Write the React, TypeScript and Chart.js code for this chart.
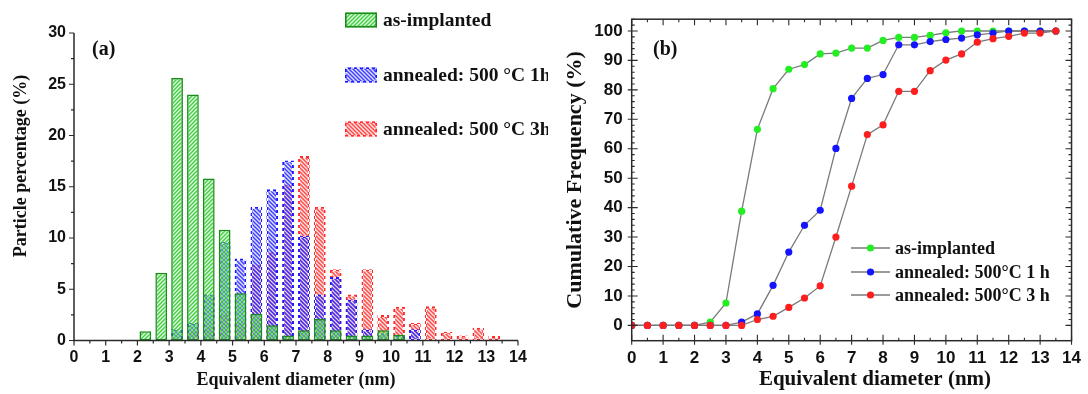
import React, { useEffect, useRef } from 'react';
import { Chart, registerables } from 'chart.js';
Chart.register(...registerables);

// ---------- Panel (a): histogram ----------
const binCenters = [2.25, 2.75, 3.25, 3.75, 4.25, 4.75, 5.25, 5.75, 6.25, 6.75, 7.25, 7.75, 8.25, 8.75, 9.25, 9.75, 10.25, 10.75, 11.25, 11.75, 12.25, 12.75, 13.25];
const histAsImplanted = [0.9, 6.6, 25.6, 24.0, 15.8, 10.8, 4.6, 2.6, 1.5, 0.5, 1.0, 2.1, 1.0, 0.5, 0.5, 1.0, 0.55, null, null, null, null, null, null];
const histAnneal1h = [null, null, 1.1, 1.7, 4.5, 9.6, 8.0, 13.05, 14.75, 17.55, 10.2, 4.5, 6.2, 4.0, 1.1, 0.7, 0.5, 1.1, null, null, null, null, null];
const histAnneal3h = [null, null, null, 0.85, 1.3, 2.5, 1.7, 7.4, 8.6, 15.2, 18.0, 13.05, 6.95, 4.5, 6.95, 2.5, 3.3, 1.7, 3.35, 0.85, 0.5, 1.25, 0.45];
const histLabels = ['as-implanted', 'annealed: 500 \u00B0C 1h', 'annealed: 500 \u00B0C 3h'];

// ---------- Panel (b): cumulative ----------
const cumX = [0, 0.5, 1, 1.5, 2, 2.5, 3, 3.5, 4, 4.5, 5, 5.5, 6, 6.5, 7, 7.5, 8, 8.5, 9, 9.5, 10, 10.5, 11, 11.5, 12, 12.5, 13, 13.5];
const cumAsImplanted = [0, 0, 0, 0, 0, 1.1, 7.6, 38.8, 66.6, 80.4, 87.0, 88.6, 92.2, 92.5, 94.2, 94.2, 96.8, 97.8, 97.8, 98.5, 99.4, 100, 100, 100, 100, 100, 100, 100];
const cumAnneal1h = [0, 0, 0, 0, 0, 0, 0, 1.1, 3.9, 13.6, 24.9, 34.0, 39.1, 60.1, 77.1, 83.9, 85.2, 95.3, 95.3, 96.4, 97.1, 97.6, 98.7, 99.3, 100, 100, 100, 100];
const cumAnneal3h = [0, 0, 0, 0, 0, 0, 0, 0, 2.0, 3.1, 6.1, 9.3, 13.4, 30.0, 47.3, 64.8, 68.1, 79.5, 79.5, 86.5, 90.1, 92.2, 96.2, 97.4, 98.2, 99.3, 99.3, 100];
const cumLabels = ['as-implanted', 'annealed: 500\u00B0C 1 h', 'annealed: 500\u00B0C 3 h'];

const xTitle = 'Equivalent diameter (nm)';
const yTitleA = 'Particle percentage (%)';
const yTitleB = 'Cumulative Frequency (%)';

const SANS = '"Liberation Sans", Arial, sans-serif';
const SERIF = '"Liberation Serif", "Times New Roman", serif';
const INK = '#111';
const AXIS = '#2a2a2a';

function hatch(ctx: CanvasRenderingContext2D, stripe: string, bg: string, forward: boolean) {
  const c = document.createElement('canvas');
  c.width = 4; c.height = 4;
  const g = c.getContext('2d')!;
  g.fillStyle = bg; g.fillRect(0, 0, 4, 4);
  g.strokeStyle = stripe; g.lineWidth = 1.5;
  g.beginPath();
  if (forward) {
    g.moveTo(-1, 5); g.lineTo(5, -1);
    g.moveTo(-1, 1); g.lineTo(1, -1);
    g.moveTo(3, 5); g.lineTo(5, 3);
  } else {
    g.moveTo(-1, -1); g.lineTo(5, 5);
    g.moveTo(-1, 3); g.lineTo(1, 5);
    g.moveTo(3, -1); g.lineTo(5, 1);
  }
  g.stroke();
  return ctx.createPattern(c, 'repeat')!;
}
function dashes(ctx: CanvasRenderingContext2D, color: string) {
  const c = document.createElement('canvas');
  c.width = 6; c.height = 6;
  const g = c.getContext('2d')!;
  g.fillStyle = color; g.fillRect(0, 0, 3, 3); g.fillRect(3, 3, 3, 3);
  g.fillStyle = 'rgba(255,255,255,0.55)'; g.fillRect(3, 0, 3, 3); g.fillRect(0, 3, 3, 3);
  return ctx.createPattern(c, 'repeat')!;
}

function toPoints(xs: number[], ys: (number | null)[]) {
  const out: { x: number; y: number }[] = [];
  xs.forEach((x, i) => { const y = ys[i]; if (y !== null && y !== undefined) out.push({ x, y }); });
  return out;
}

const decoA = {
  id: 'decoA',
  afterDatasetsDraw(chart: any) {
    const { ctx, chartArea: ca, scales } = chart;
    const x = scales.x, y = scales.y;
    ctx.save();
    ctx.strokeStyle = AXIS; ctx.lineWidth = 1.5;
    ctx.beginPath();
    ctx.moveTo(ca.left, ca.top); ctx.lineTo(ca.left, ca.bottom); ctx.lineTo(ca.right, ca.bottom);
    ctx.stroke();
    ctx.lineWidth = 1.2;
    ctx.beginPath();
    for (let i = 0; i <= 12; i++) {
      const v = i * 2.5; const py = y.getPixelForValue(v);
      ctx.moveTo(ca.left, py); ctx.lineTo(ca.left - (i % 2 === 0 ? 5 : 3), py);
    }
    for (let i = 0; i <= 28; i++) {
      const v = i * 0.5; const px = x.getPixelForValue(v);
      ctx.moveTo(px, ca.bottom); ctx.lineTo(px, ca.bottom + (i % 2 === 0 ? 5 : 3));
    }
    ctx.stroke();
    // titles
    ctx.fillStyle = INK;
    ctx.font = `bold 18px ${SERIF}`;
    ctx.textAlign = 'center'; ctx.textBaseline = 'middle';
    ctx.fillText(xTitle, (ca.left + ca.right) / 2, 380);
    ctx.save();
    ctx.translate(21, 166); ctx.rotate(-Math.PI / 2);
    ctx.fillText(yTitleA, 0, 0);
    ctx.restore();
    ctx.font = `bold 20px ${SERIF}`;
    ctx.textAlign = 'left';
    ctx.fillText('(a)', 92, 50);
    // legend
    const rows = [20, 75, 129];
    chart.data.datasets.forEach((ds: any, i: number) => {
      const top = rows[i] - 7.5;
      ctx.fillStyle = ds.backgroundColor;
      ctx.fillRect(345, top, 32, 15);
      ctx.strokeStyle = ds.borderColor; ctx.lineWidth = 1.6;
      ctx.strokeRect(345.8, top + 0.8, 30.4, 13.4);
      ctx.fillStyle = INK;
      ctx.font = `bold 19.5px ${SERIF}`;
      ctx.textAlign = 'left'; ctx.textBaseline = 'middle';
      ctx.fillText(histLabels[i], 383, rows[i] + 1);
    });
    ctx.restore();
  },
};

const decoB = {
  id: 'decoB',
  afterDatasetsDraw(chart: any) {
    const { ctx, chartArea: ca, scales } = chart;
    const x = scales.x, y = scales.y;
    ctx.save();
    ctx.strokeStyle = AXIS; ctx.lineWidth = 1.5;
    ctx.strokeRect(ca.left, ca.top, ca.right - ca.left, ca.bottom - ca.top);
    ctx.lineWidth = 1.1;
    ctx.beginPath();
    for (let i = 0; i <= 28; i++) {
      const px = x.getPixelForValue(i * 0.5);
      const len = i % 2 === 0 ? 6 : 3;
      ctx.moveTo(px, ca.bottom + (i % 2 === 0 ? 4 : 0)); ctx.lineTo(px, ca.bottom - len);
      ctx.moveTo(px, ca.top); ctx.lineTo(px, ca.top + len);
    }
    for (let v = 0; v <= 104; v += 2) {
      const py = y.getPixelForValue(v);
      const major = v % 10 === 0;
      const len = major ? 6 : 3;
      ctx.moveTo(ca.left - (major ? 4 : 0), py); ctx.lineTo(ca.left + len, py);
      ctx.moveTo(ca.right, py); ctx.lineTo(ca.right - len, py);
    }
    ctx.stroke();
    ctx.fillStyle = INK;
    ctx.font = `bold 21px ${SERIF}`;
    ctx.textAlign = 'center'; ctx.textBaseline = 'middle';
    ctx.fillText(xTitle, 327, 380);
    ctx.save();
    ctx.font = `bold 22px ${SERIF}`;
    ctx.translate(27, (ca.top + ca.bottom) / 2); ctx.rotate(-Math.PI / 2);
    ctx.fillText(yTitleB, 0, 0);
    ctx.restore();
    ctx.font = `bold 20px ${SERIF}`;
    ctx.textAlign = 'left';
    ctx.fillText('(b)', 105, 50);
    // legend
    const rows = [248, 272, 295];
    [0, 1, 2].forEach((i) => {
      const ds = chart.data.datasets[i];
      const yy = rows[i];
      ctx.strokeStyle = ds.borderColor; ctx.lineWidth = 1.3;
      ctx.beginPath(); ctx.moveTo(303, yy); ctx.lineTo(342, yy); ctx.stroke();
      ctx.fillStyle = ds.pointBackgroundColor;
      ctx.beginPath(); ctx.arc(322.5, yy, 3.6, 0, Math.PI * 2); ctx.fill();
      ctx.fillStyle = INK;
      ctx.font = `bold 18px ${SERIF}`;
      ctx.textAlign = 'left'; ctx.textBaseline = 'middle';
      ctx.fillText(cumLabels[i], 347, yy + 1);
    });
    ctx.restore();
  },
};

export default function App() {
  const refA = useRef<HTMLCanvasElement>(null);
  const refB = useRef<HTMLCanvasElement>(null);

  useEffect(() => {
    const cA = refA.current!, cB = refB.current!;
    const ctxA = cA.getContext('2d')!;
    const greenFill = hatch(ctxA, 'rgba(40,200,40,0.85)', 'rgba(190,255,190,0.4)', true);
    const blueFill = hatch(ctxA, 'rgba(25,25,255,0.8)', 'rgba(190,190,255,0.45)', false);
    const redFill = hatch(ctxA, 'rgba(255,35,35,0.8)', 'rgba(255,200,200,0.45)', false);
    const blueEdge = dashes(ctxA, '#1a1aff');
    const redEdge = dashes(ctxA, '#ff2a2a');

    const tickFontA = { family: SANS, size: 16, weight: 'bold' as const };
    const chartA = new Chart(cA, {
      type: 'bar',
      data: {
        datasets: [
          { label: histLabels[0], data: toPoints(binCenters, histAsImplanted), backgroundColor: greenFill, borderColor: '#1c8a1c', borderWidth: 1.5, borderSkipped: false },
          { label: histLabels[1], data: toPoints(binCenters, histAnneal1h), backgroundColor: blueFill, borderColor: blueEdge, borderWidth: 2, borderSkipped: false },
          { label: histLabels[2], data: toPoints(binCenters, histAnneal3h), backgroundColor: redFill, borderColor: redEdge, borderWidth: 2, borderSkipped: false },
        ] as any,
      },
      options: {
        animation: false,
        responsive: false,
        events: [],
        layout: { padding: { left: 0, top: 33, right: 30, bottom: 0 } },
        datasets: { bar: { grouped: false, categoryPercentage: 1, barPercentage: 0.74 } } as any,
        plugins: { legend: { display: false }, tooltip: { enabled: false } },
        scales: {
          x: {
            type: 'linear', min: 0, max: 14, offset: false,
            grid: { display: false, drawTicks: false }, border: { display: false },
            ticks: { stepSize: 1, autoSkip: false, maxRotation: 0, padding: 7, font: tickFontA, color: INK },
            afterFit: (s: any) => { s.height = 53.5; },
          },
          y: {
            min: 0, max: 30,
            grid: { display: false, drawTicks: false }, border: { display: false },
            ticks: { stepSize: 5, padding: 8, font: tickFontA, color: INK },
            afterFit: (s: any) => { s.width = 74; },
          },
        } as any,
      },
      plugins: [decoA],
    });

    const tickFontB = { family: SANS, size: 17, weight: 'bold' as const };
    const line = '#7a7a7a';
    const chartB = new Chart(cB, {
      type: 'line',
      data: {
        datasets: [
          { label: cumLabels[0], data: toPoints(cumX, cumAsImplanted), borderColor: line, borderWidth: 1.3, pointRadius: 3.6, pointBorderWidth: 0, pointBackgroundColor: '#22ee22', pointBorderColor: '#22ee22', order: 3 },
          { label: cumLabels[1], data: toPoints(cumX, cumAnneal1h), borderColor: line, borderWidth: 1.3, pointRadius: 3.6, pointBorderWidth: 0, pointBackgroundColor: '#1414ff', pointBorderColor: '#1414ff', order: 2 },
          { label: cumLabels[2], data: toPoints(cumX, cumAnneal3h), borderColor: line, borderWidth: 1.3, pointRadius: 3.6, pointBorderWidth: 0, pointBackgroundColor: '#ff1e1e', pointBorderColor: '#ff1e1e', order: 1 },
        ] as any,
      },
      options: {
        animation: false,
        responsive: false,
        events: [],
        layout: { padding: { left: 0, top: 14, right: 13, bottom: 0 } },
        plugins: { legend: { display: false }, tooltip: { enabled: false } },
        scales: {
          x: {
            type: 'linear', min: 0, max: 14,
            grid: { display: false, drawTicks: false }, border: { display: false },
            ticks: { stepSize: 1, autoSkip: false, maxRotation: 0, padding: 7, font: tickFontB, color: INK },
            afterFit: (s: any) => { s.height = 53.3; },
          },
          y: {
            min: -5.2, max: 104,
            grid: { display: false, drawTicks: false }, border: { display: false },
            ticks: { stepSize: 10, includeBounds: false, padding: 9, font: tickFontB, color: INK, callback: (v: any) => (Math.round(v) % 10 === 0 && v >= 0 && v <= 100 ? String(v) : '') },
            afterFit: (s: any) => { s.width = 83.7; },
          },
        } as any,
      },
      plugins: [decoB],
    });

    return () => { chartA.destroy(); chartB.destroy(); };
  }, []);

  return (
    <div style={{ position: 'absolute', left: 0, top: 0, width: 1088, height: 394, background: '#fff', overflow: 'hidden' }}>
      <canvas ref={refA} width={548} height={394} style={{ position: 'absolute', left: 0, top: 0, width: 548, height: 394 }} />
      <canvas ref={refB} width={540} height={394} style={{ position: 'absolute', left: 548, top: 0, width: 540, height: 394 }} />
    </div>
  );
}
